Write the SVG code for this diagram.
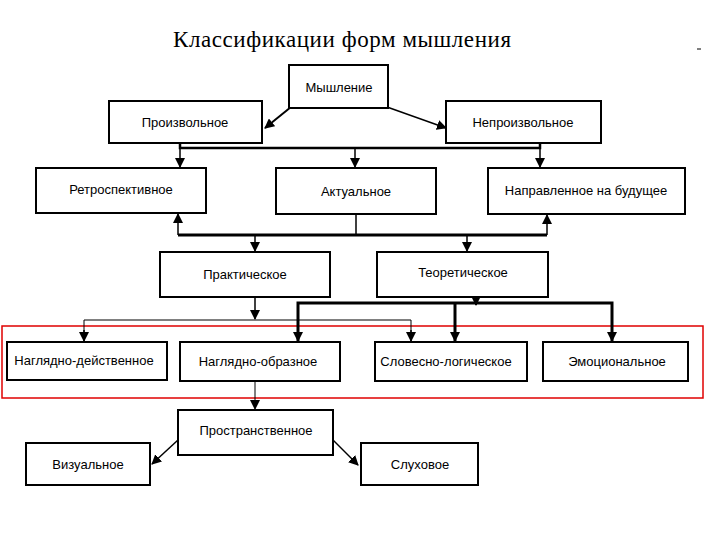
<svg xmlns="http://www.w3.org/2000/svg" width="720" height="540" viewBox="0 0 720 540">
<defs>
<style>
.n rect{fill:#fff;stroke:#000;stroke-width:2}
.n text{font-family:"Liberation Sans",Arial,sans-serif;font-size:13px;text-anchor:middle;fill:#000}
.c line,.c polyline{stroke:#000;fill:none}
</style>
<marker id="b" viewBox="0 0 10 10" refX="9" refY="5" markerWidth="10" markerHeight="10" orient="auto" markerUnits="userSpaceOnUse"><path d="M0,0L10,5L0,10z" fill="#000"/></marker>
</defs>
<rect width="720" height="540" fill="#fff"/>
<text x="173" y="47" font-family="Liberation Serif,serif" font-size="23" textLength="338">Классификации форм мышления</text>
<line x1="697" y1="49" x2="701" y2="49" stroke="#000"/>
<rect x="2" y="326" width="701" height="72" fill="none" stroke="#e00000" stroke-width="1.5"/>
<g class="c" stroke-width="1.5">
<line x1="291" y1="107" x2="265" y2="128" marker-end="url(#b)" stroke-width="2"/>
<line x1="387" y1="107" x2="446" y2="128" marker-end="url(#b)"/>
<polyline points="180,143 180,148 540,148 540,143" stroke-width="2.5"/>
<line x1="180" y1="148" x2="180" y2="167" marker-end="url(#b)"/>
<line x1="355" y1="148" x2="355" y2="167" marker-end="url(#b)"/>
<line x1="540" y1="148" x2="540" y2="167" marker-end="url(#b)"/>
<line x1="178" y1="235" x2="547" y2="235" stroke-width="3"/>
<line x1="356" y1="214" x2="356" y2="235"/>
<line x1="178" y1="235" x2="178" y2="214" marker-end="url(#b)"/>
<line x1="547" y1="235" x2="547" y2="215" marker-end="url(#b)"/>
<line x1="255" y1="235" x2="255" y2="251" marker-end="url(#b)"/>
<line x1="467" y1="235" x2="467" y2="251" marker-end="url(#b)"/>
<line x1="255" y1="297" x2="255" y2="319" marker-end="url(#b)"/>
<polyline points="84,341 84,320 411,320 411,341" stroke-width="1"/>
<line x1="84" y1="330" x2="84" y2="341" marker-end="url(#b)"/>
<line x1="411" y1="330" x2="411" y2="341" marker-end="url(#b)"/>
<polyline points="298,341 298,303 612,303 612,341" stroke-width="3"/>
<line x1="476" y1="297" x2="476" y2="305" marker-end="url(#b)" stroke-width="2"/>
<line x1="298" y1="330" x2="298" y2="341" marker-end="url(#b)"/>
<line x1="455" y1="303" x2="455" y2="341" marker-end="url(#b)" stroke-width="3"/>
<line x1="612" y1="330" x2="612" y2="341" marker-end="url(#b)"/>
<line x1="255" y1="381" x2="255" y2="409" marker-end="url(#b)" stroke-width="1"/>
<line x1="178" y1="440" x2="152" y2="464" marker-end="url(#b)"/>
<line x1="333" y1="440" x2="358" y2="465" marker-end="url(#b)"/>
</g>
<g id="n1" class="n"><rect x="289" y="65" width="99" height="43" stroke-width="3"/><text x="339" y="92">Мышление</text></g>
<g id="n2" class="n"><rect x="109" y="101" width="153" height="42"/><text x="185" y="127">Произвольное</text></g>
<g id="n3" class="n"><rect x="446" y="101" width="155" height="42"/><text x="523" y="127">Непроизвольное</text></g>
<g id="n4" class="n"><rect x="36" y="168" width="170" height="45" stroke-width="1.5"/><text x="121" y="194">Ретроспективное</text></g>
<g id="n5" class="n"><rect x="276" y="168" width="160" height="46"/><text x="356" y="196">Актуальное</text></g>
<g id="n6" class="n"><rect x="488" y="168" width="197" height="46"/><text x="586" y="195">Направленное на будущее</text></g>
<g id="n7" class="n"><rect x="160" y="252" width="170" height="45" stroke-width="1.5"/><text x="245" y="279">Практическое</text></g>
<g id="n8" class="n"><rect x="377" y="252" width="171" height="45" stroke-width="1.5"/><text x="463" y="277">Теоретическое</text></g>
<g id="n9" class="n"><rect x="7" y="342" width="160" height="38" stroke-width="1.5"/><text x="84" y="365">Наглядно-действенное</text></g>
<g id="n10" class="n"><rect x="180" y="342" width="160" height="39" stroke-width="3"/><text x="258" y="366">Наглядно-образное</text></g>
<g id="n11" class="n"><rect x="375" y="342" width="152" height="39" stroke-width="3"/><text x="446" y="366">Словесно-логическое</text></g>
<g id="n12" class="n"><rect x="543" y="342" width="145" height="39" stroke-width="3"/><text x="617" y="366">Эмоциональное</text></g>
<g id="n13" class="n"><rect x="178" y="410" width="155" height="45" stroke-width="3"/><text x="256" y="435">Пространственное</text></g>
<g id="n14" class="n"><rect x="26" y="443" width="124" height="42" stroke-width="3"/><text x="88" y="469">Визуальное</text></g>
<g id="n15" class="n"><rect x="361" y="443" width="117" height="42" stroke-width="1.5"/><text x="420" y="469">Слуховое</text></g>
</svg>
